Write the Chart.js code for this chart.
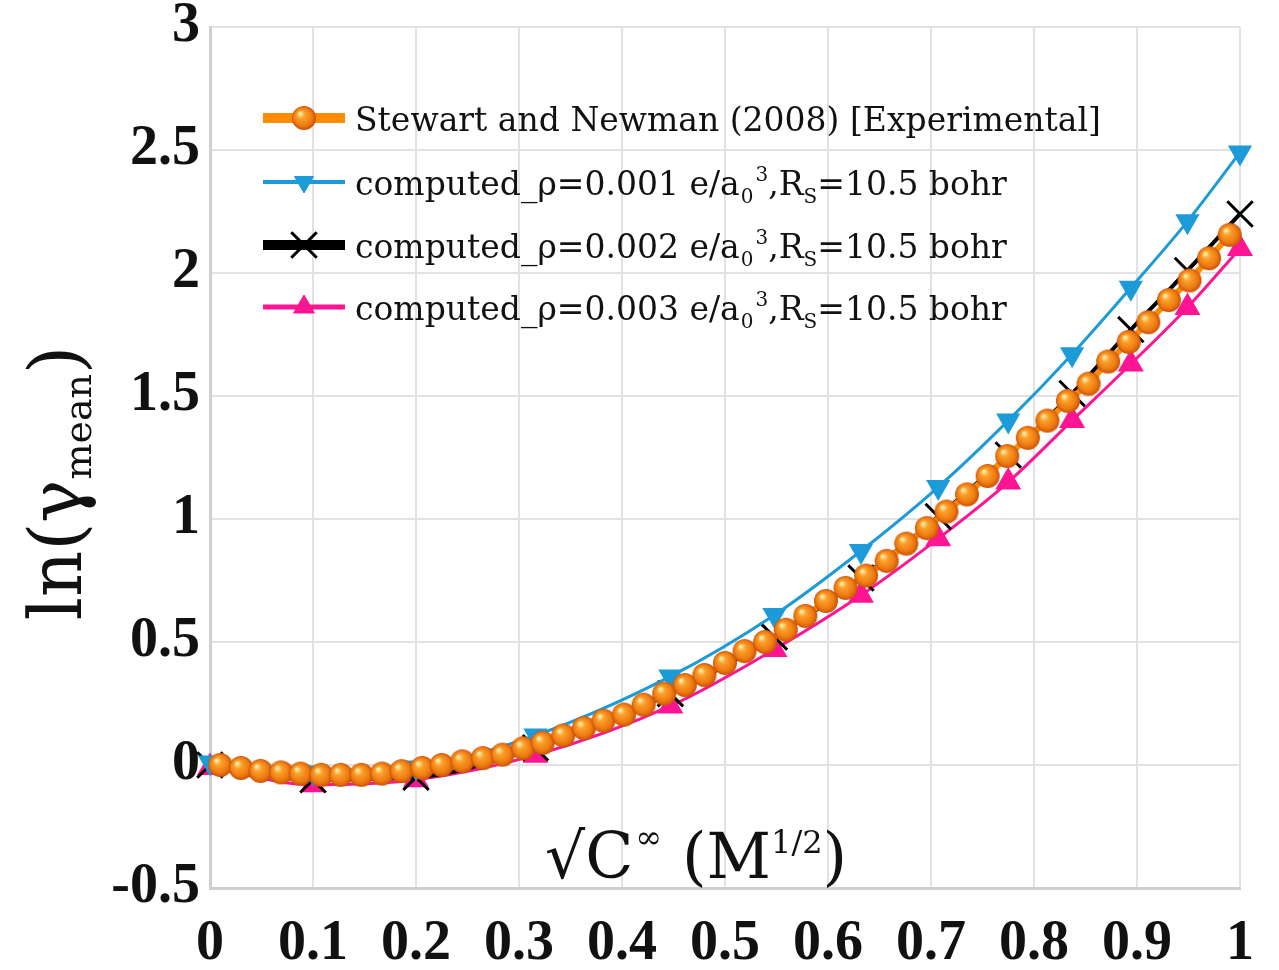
<!DOCTYPE html>
<html>
<head>
<meta charset="utf-8">
<script src="https://cdn.jsdelivr.net/npm/chart.js@4.4.0/dist/chart.umd.min.js"></script>
<style>
  html, body { margin: 0; padding: 0; background: #fff; }
  #wrap { width: 1279px; height: 970px; }
</style>
</head>
<body>
<div id="wrap"><canvas id="chart" width="1279" height="970"></canvas></div>
<script>
// sqrt(C) values of the computed points
const sqrtC = [0, 0.1, 0.2, 0.316, 0.447, 0.548, 0.632, 0.707, 0.775, 0.837, 0.894, 0.949, 1.0];
const computed001 = [0.01, -0.03, -0.01, 0.12, 0.36, 0.61, 0.87, 1.13, 1.40, 1.67, 1.94, 2.21, 2.49];
const computed002 = [0.0, -0.06, -0.05, 0.07, 0.29, 0.52, 0.76, 1.01, 1.26, 1.51, 1.77, 2.01, 2.24];
const computed003 = [-0.01, -0.08, -0.06, 0.04, 0.24, 0.47, 0.69, 0.92, 1.15, 1.40, 1.63, 1.86, 2.10];

// Stewart and Newman (2008) experimental points
const expX = [0.010, 0.030, 0.049, 0.069, 0.088, 0.108, 0.127, 0.147, 0.167, 0.186,
              0.206, 0.225, 0.245, 0.265, 0.284, 0.304, 0.323, 0.343, 0.363, 0.382,
              0.402, 0.421, 0.441, 0.461, 0.480, 0.500, 0.519, 0.539, 0.559, 0.578,
              0.598, 0.617, 0.637, 0.657, 0.676, 0.696, 0.715, 0.735, 0.755, 0.774,
              0.794, 0.813, 0.833, 0.853, 0.872, 0.892, 0.911, 0.931, 0.951, 0.970, 0.990];
const expY = [0.000, -0.012, -0.024, -0.030, -0.035, -0.040, -0.040, -0.040, -0.035, -0.025,
              -0.012, 0.000, 0.015, 0.028, 0.042, 0.068, 0.090, 0.120, 0.150, 0.180,
              0.205, 0.245, 0.290, 0.325, 0.366, 0.415, 0.463, 0.500, 0.550, 0.606,
              0.667, 0.720, 0.770, 0.830, 0.900, 0.963, 1.030, 1.100, 1.175, 1.256,
              1.330, 1.400, 1.480, 1.550, 1.640, 1.720, 1.800, 1.890, 1.970, 2.060, 2.155];

const legendLabels = [
  'Stewart and Newman (2008) [Experimental]',
  'computed_\u03C1=0.001 e/a',
  'computed_\u03C1=0.002 e/a',
  'computed_\u03C1=0.003 e/a'
];

const ORANGE = '#FF8C00', BLUE = '#1C9BD8', BLACK = '#000000', PINK = '#FF1493';
const SERIF = '"DejaVu Serif", serif';

function makeSphere(r){
  const c = document.createElement('canvas');
  c.width = c.height = 2 * r + 2;
  const g = c.getContext('2d');
  const cx = r + 1;
  const grad = g.createRadialGradient(cx - r * 0.35, cx - r * 0.4, r * 0.05, cx, cx, r);
  grad.addColorStop(0, '#FFF0B0');
  grad.addColorStop(0.3, '#FBA02A');
  grad.addColorStop(0.75, '#EE7A10');
  grad.addColorStop(1, '#C8500A');
  g.fillStyle = grad;
  g.beginPath();
  g.arc(cx, cx, r, 0, Math.PI * 2);
  g.fill();
  return c;
}
const sphere = makeSphere(12);

const toPts = (xs, ys) => xs.map((x, i) => ({x: x, y: ys[i]}));
const fmt = v => String(+(+v).toFixed(2));

// draws text pieces with sub/superscripts, left to right from (x, y) baseline
function richText(ctx, parts, x, y, measureOnly){
  let w = 0;
  parts.forEach(p => {
    ctx.font = p.font;
    if(!measureOnly) ctx.fillText(p.t, x + w + (p.dx || 0), y + (p.dy || 0));
    w += ctx.measureText(p.t).width + (p.dx || 0);
  });
  return w;
}

const textPlugin = {
  id: 'textPlugin',
  afterDraw(chart){
    const ctx = chart.ctx;
    ctx.save();
    ctx.fillStyle = '#111';
    ctx.textBaseline = 'alphabetic';
    ctx.textAlign = 'left';

    // y axis title
    const yParts = [
      {t: 'ln(\u03B3', font: '72px ' + SERIF},
      {t: 'mean', font: '38px ' + SERIF, dy: 10},
      {t: ')', font: '72px ' + SERIF}
    ];
    ctx.save();
    ctx.translate(81, 483);
    ctx.rotate(-Math.PI / 2);
    const yw = richText(ctx, yParts, 0, 0, true);
    richText(ctx, yParts, -yw / 2, 0);
    ctx.restore();

    // x axis title (sits inside the plot)
    const xParts = [
      {t: '\u221AC', font: '63px ' + SERIF},
      {t: '\u221E', font: '32px ' + SERIF, dy: -30, dx: 2},
      {t: ' (M', font: '63px ' + SERIF},
      {t: '1/2', font: '32px ' + SERIF, dy: -25},
      {t: ')', font: '63px ' + SERIF}
    ];
    richText(ctx, xParts, 545, 878);

    // legend
    const rows = [131, 195, 258, 320];
    const styles = [
      {color: ORANGE, lw: 10, pointStyle: sphere, radius: 12},
      {color: BLUE, lw: 4, pointStyle: 'triangle', radius: 11, rotation: 180},
      {color: BLACK, lw: 10, pointStyle: 'crossRot', radius: 18, bw: 3},
      {color: PINK, lw: 5, pointStyle: 'triangle', radius: 12}
    ];
    rows.forEach((by, i) => {
      const s = styles[i];
      const ly = by - 13;
      ctx.strokeStyle = s.color;
      ctx.lineWidth = s.lw;
      ctx.beginPath();
      ctx.moveTo(263, ly);
      ctx.lineTo(345, ly);
      ctx.stroke();
      ctx.fillStyle = s.color;
      ctx.strokeStyle = s.color;
      ctx.lineWidth = s.bw || 1;
      Chart.helpers.drawPoint(ctx, {pointStyle: s.pointStyle, radius: s.radius, rotation: s.rotation || 0, borderWidth: s.bw || 1}, 304, ly);

      ctx.fillStyle = '#111';
      if(i === 0){
        ctx.font = '33px ' + SERIF;
        ctx.fillText(legendLabels[0], 355, by);
      } else {
        richText(ctx, [
          {t: legendLabels[i], font: '33px ' + SERIF},
          {t: '0', font: '20px ' + SERIF, dy: 8, dx: 1},
          {t: '3', font: '20px ' + SERIF, dy: -14, dx: 2},
          {t: ',R', font: '33px ' + SERIF},
          {t: 'S', font: '20px ' + SERIF, dy: 8},
          {t: '=10.5 bohr', font: '33px ' + SERIF}
        ], 355, by);
      }
    });
    ctx.restore();
  }
};

const tickFont = {family: '"Liberation Serif", "Times New Roman", serif', size: 56, weight: 'bold'};

new Chart(document.getElementById('chart'), {
  type: 'line',
  data: {
    datasets: [
      {
        label: legendLabels[0],
        data: toPts(expX, expY),
        borderColor: ORANGE,
        backgroundColor: ORANGE,
        borderWidth: 6,
        pointStyle: sphere,
        pointRadius: 12,
        tension: 0
      },
      {
        label: legendLabels[1],
        data: toPts(sqrtC, computed001),
        borderColor: BLUE,
        backgroundColor: BLUE,
        borderWidth: 3,
        pointStyle: 'triangle',
        pointRotation: 180,
        pointRadius: 11,
        cubicInterpolationMode: 'monotone'
      },
      {
        label: legendLabels[2],
        data: toPts(sqrtC, computed002),
        borderColor: BLACK,
        backgroundColor: BLACK,
        borderWidth: 4,
        pointStyle: 'crossRot',
        pointRadius: 18,
        pointBorderWidth: 3,
        cubicInterpolationMode: 'monotone'
      },
      {
        label: legendLabels[3],
        data: toPts(sqrtC, computed003),
        borderColor: PINK,
        backgroundColor: PINK,
        borderWidth: 3,
        pointStyle: 'triangle',
        pointRadius: 12,
        cubicInterpolationMode: 'monotone'
      }
    ]
  },
  options: {
    responsive: false,
    animation: false,
    clip: false,
    layout: {padding: {top: 27, right: 39, left: 0, bottom: 0}},
    plugins: {legend: {display: false}, tooltip: {enabled: false}},
    scales: {
      x: {
        type: 'linear',
        min: 0, max: 1,
        afterFit: s => { s.height = 82; s.paddingLeft = 0; s.paddingRight = 0; },
        ticks: {stepSize: 0.1, font: tickFont, color: '#111', padding: 23, maxRotation: 0, autoSkip: false, callback: fmt},
        grid: {color: '#E2E2E2', lineWidth: 2, drawTicks: false},
        border: {color: '#CFCFCF', width: 3}
      },
      y: {
        min: -0.5, max: 3,
        afterFit: s => { s.width = 210; s.paddingTop = 0; s.paddingBottom = 0; },
        ticks: {stepSize: 0.5, font: tickFont, color: '#111', padding: 10, callback: fmt},
        grid: {color: '#E2E2E2', lineWidth: 2, drawTicks: false},
        border: {color: '#CFCFCF', width: 3}
      }
    }
  },
  plugins: [textPlugin]
});
</script>
</body>
</html>
